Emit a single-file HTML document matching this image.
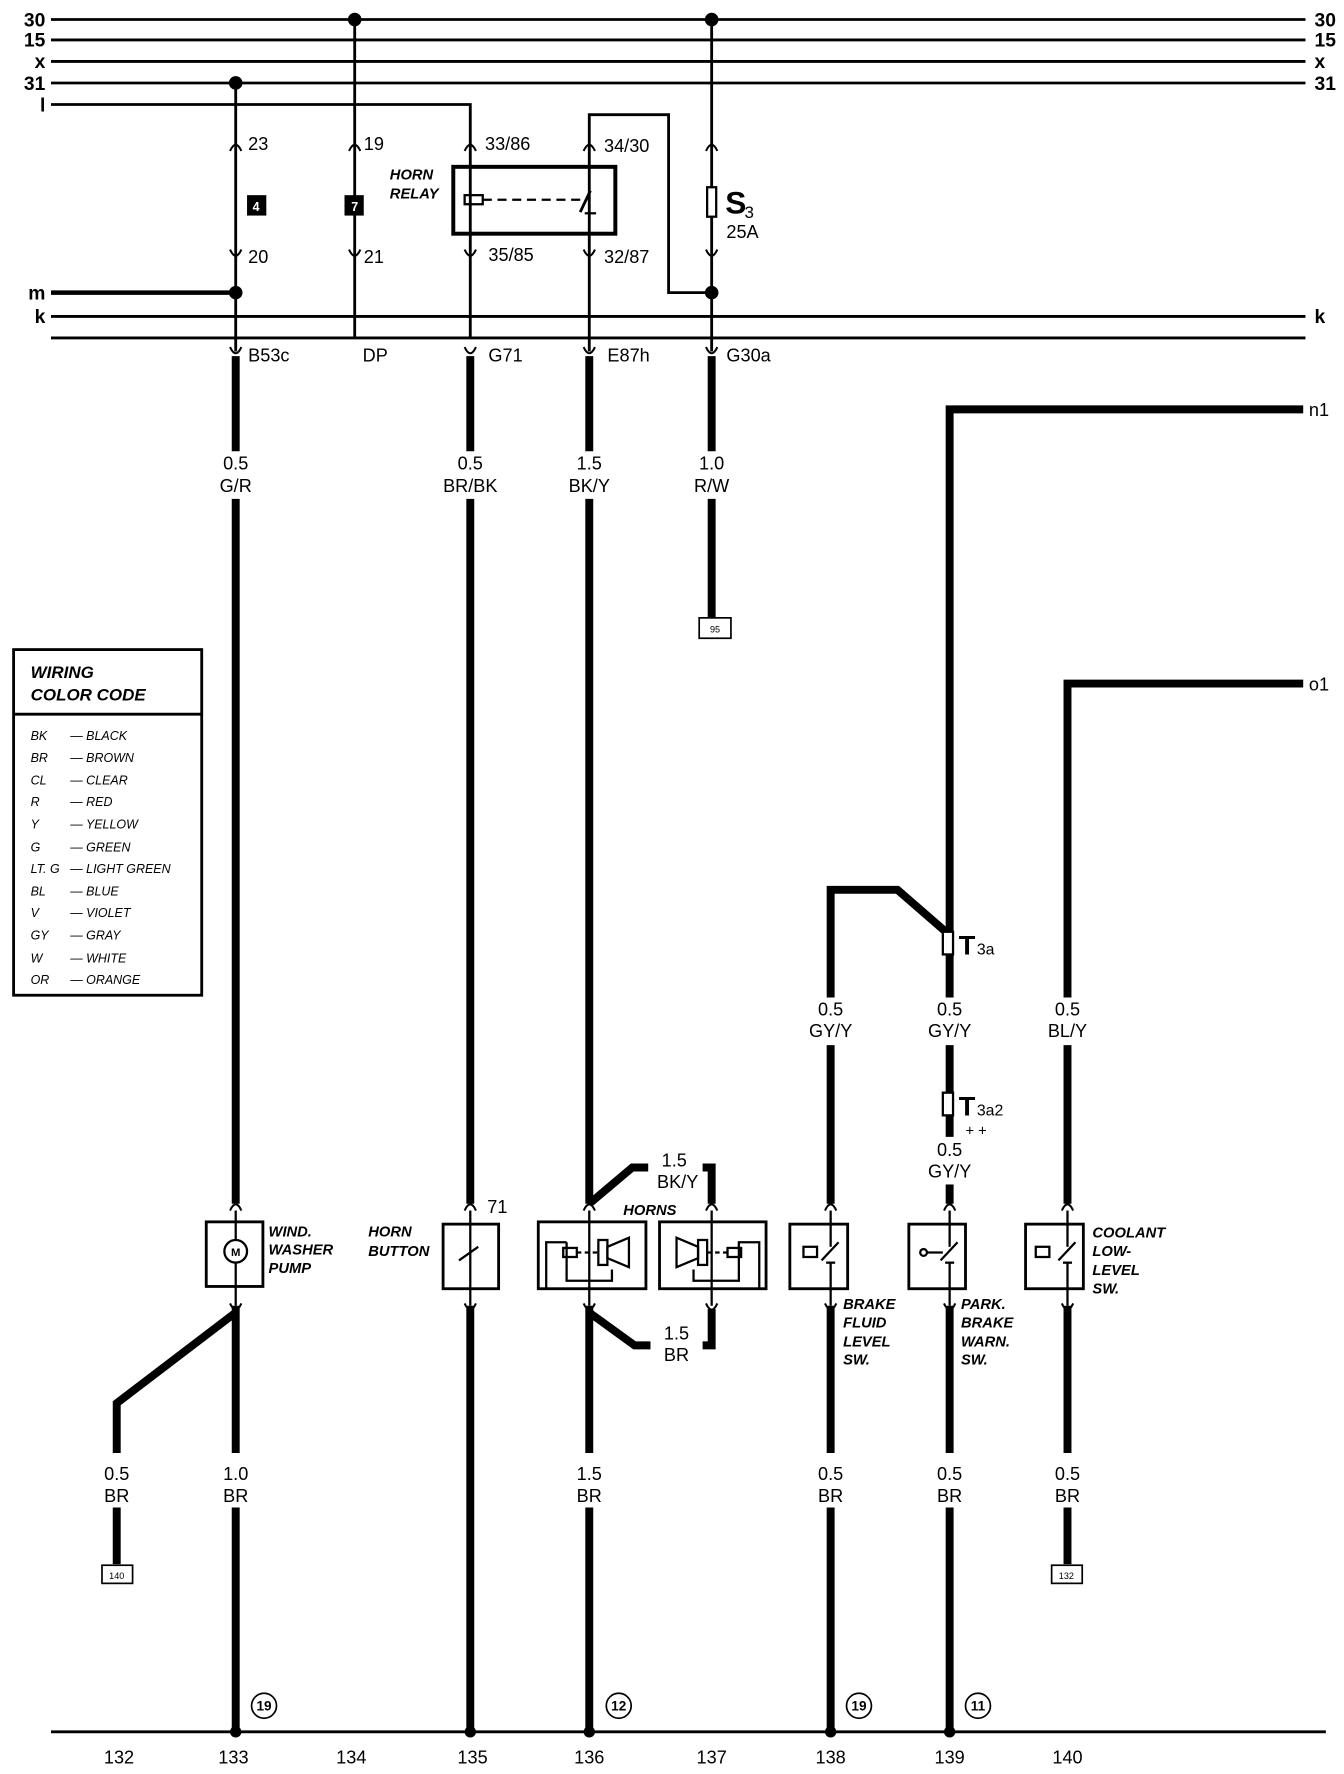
<!DOCTYPE html>
<html><head><meta charset="utf-8"><style>
html,body{margin:0;padding:0;background:#fff;}
svg{display:block}
text{font-family:"Liberation Sans",Arial,sans-serif}
.b{font-weight:bold}
.i{font-style:italic;font-weight:bold;font-size:13px}
.lbl{font-size:17px}
.sm{font-size:11px;font-style:italic}
</style></head><body>
<svg width="1344" height="1774" viewBox="0 0 1186 1565" xmlns="http://www.w3.org/2000/svg">
<g stroke="#000" fill="none" stroke-width="2.5">
<line x1="45" y1="17" x2="1152" y2="17"/>
<line x1="45" y1="35" x2="1152" y2="35"/>
<line x1="45" y1="54" x2="1152" y2="54"/>
<line x1="45" y1="73" x2="1152" y2="73"/>
<polyline points="45,92 415,92 415,298"/>
<line x1="45" y1="258" x2="208" y2="258" stroke-width="4"/>
<line x1="45" y1="279" x2="1152" y2="279"/>
<line x1="45" y1="298" x2="1152" y2="298"/>
<line x1="45" y1="1528" x2="1170" y2="1528"/>
<line x1="208" y1="73" x2="208" y2="310"/>
<line x1="313" y1="17" x2="313" y2="298"/>
<line x1="628" y1="17" x2="628" y2="310"/>
<polyline points="520,310 520,101 590,101 590,258 628,258"/>
<rect x="400" y="147" width="143" height="59" stroke-width="3.5"/>
<rect x="410" y="172" width="16" height="8" stroke-width="2"/>
<line x1="426" y1="176" x2="512" y2="176" stroke-dasharray="8,5" stroke-width="2"/>
<line x1="512" y1="187" x2="521" y2="168" stroke-width="2.5"/>
<line x1="516" y1="188" x2="526" y2="188" stroke-width="2"/>
<rect x="624" y="165" width="8" height="26" fill="#fff" stroke-width="2"/>
<g stroke-width="7">
<line x1="208" y1="314" x2="208" y2="398"/>
<line x1="208" y1="440" x2="208" y2="1062"/>
<line x1="208" y1="1152" x2="208" y2="1282"/>
<line x1="208" y1="1330" x2="208" y2="1528"/>
<polyline points="208,1158 103,1238 103,1282"/>
<line x1="103" y1="1330" x2="103" y2="1380"/>
<line x1="415" y1="314" x2="415" y2="398"/>
<line x1="415" y1="440" x2="415" y2="1062"/>
<line x1="415" y1="1152" x2="415" y2="1528"/>
<line x1="520" y1="314" x2="520" y2="398"/>
<line x1="520" y1="440" x2="520" y2="1062"/>
<polyline points="520,1062 558,1030 572,1030"/>
<polyline points="620,1030 628,1030 628,1062"/>
<line x1="520" y1="1152" x2="520" y2="1282"/>
<line x1="520" y1="1330" x2="520" y2="1528"/>
<polyline points="520,1158 560,1187 574,1187"/>
<polyline points="628,1155 628,1187 620,1187"/>
<line x1="628" y1="314" x2="628" y2="398"/>
<line x1="628" y1="440" x2="628" y2="545"/>
<polyline points="1150,361 838,361 838,880"/>
<polyline points="733,880 733,785 792,785 838,825"/>
<line x1="733" y1="922" x2="733" y2="1062"/>
<line x1="733" y1="1152" x2="733" y2="1282"/>
<line x1="733" y1="1330" x2="733" y2="1528"/>
<line x1="838" y1="922" x2="838" y2="1003"/>
<line x1="838" y1="1045" x2="838" y2="1062"/>
<line x1="838" y1="1152" x2="838" y2="1282"/>
<line x1="838" y1="1330" x2="838" y2="1528"/>
<polyline points="1150,603 942,603 942,880"/>
<line x1="942" y1="922" x2="942" y2="1062"/>
<line x1="942" y1="1152" x2="942" y2="1282"/>
<line x1="942" y1="1330" x2="942" y2="1380"/>
</g>
<g stroke-width="2.5" fill="#fff">
<rect x="182" y="1078" width="50" height="57"/>
<rect x="391" y="1080" width="49" height="57"/>
<rect x="475" y="1078" width="95" height="59"/>
<rect x="582" y="1078" width="94" height="59"/>
<rect x="697" y="1080" width="51" height="57"/>
<rect x="802" y="1080" width="50" height="57"/>
<rect x="905" y="1080" width="51" height="57"/>
</g>
<g stroke-width="2">
<line x1="208" y1="1068" x2="208" y2="1094"/><line x1="208" y1="1114" x2="208" y2="1152"/>
<line x1="415" y1="1068" x2="415" y2="1152"/>
<line x1="520" y1="1068" x2="520" y2="1152"/>
<line x1="628" y1="1068" x2="628" y2="1152"/>
<line x1="733" y1="1068" x2="733" y2="1100"/><line x1="733" y1="1114" x2="733" y2="1152"/>
<line x1="838" y1="1068" x2="838" y2="1100"/><line x1="838" y1="1114" x2="838" y2="1152"/>
<line x1="942" y1="1068" x2="942" y2="1100"/><line x1="942" y1="1114" x2="942" y2="1152"/>
<line x1="405" y1="1112" x2="422" y2="1100"/>
<line x1="725" y1="1112" x2="740" y2="1096"/><line x1="729" y1="1114" x2="737" y2="1114"/>
<line x1="830" y1="1112" x2="845" y2="1096"/><line x1="834" y1="1114" x2="842" y2="1114"/>
<line x1="934" y1="1112" x2="949" y2="1096"/><line x1="938" y1="1114" x2="946" y2="1114"/>
<rect x="709" y="1100" width="12" height="9"/>
<rect x="914" y="1100" width="12" height="9"/>
<circle cx="815" cy="1105" r="3"/><line x1="818" y1="1105" x2="832" y2="1105"/>
<circle cx="208" cy="1104" r="10" fill="#fff"/>
<polyline points="482,1137 482,1096 500,1096"/><polyline points="500,1096 500,1130 540,1130 540,1120"/>
<rect x="497" y="1101" width="12" height="8"/><line x1="509" y1="1105" x2="528" y2="1105" stroke-dasharray="4,3"/>
<rect x="528" y="1094" width="8" height="22"/><polygon points="536,1100 555,1092 555,1118 536,1110"/>
<polyline points="670,1137 670,1096 652,1096 652,1130 612,1130 612,1120"/>
<rect x="642" y="1101" width="12" height="8"/><line x1="624" y1="1105" x2="642" y2="1105" stroke-dasharray="4,3"/>
<rect x="616" y="1094" width="8" height="22"/><polygon points="616,1100 597,1092 597,1118 616,1110"/>
</g>
<g stroke-width="1.8">
<path d="M203,133 Q208,122 213,133"/><path d="M203,220 Q208,231 213,220"/>
<path d="M308,133 Q313,122 318,133"/><path d="M308,220 Q313,231 318,220"/>
<path d="M410,133 Q415,122 420,133"/><path d="M410,220 Q415,231 420,220"/>
<path d="M515,133 Q520,122 525,133"/><path d="M515,220 Q520,231 525,220"/>
<path d="M623,133 Q628,122 633,133"/><path d="M623,220 Q628,231 633,220"/>
<path d="M203,306 Q208,317 213,306"/><path d="M410,306 Q415,317 420,306"/><path d="M515,306 Q520,317 525,306"/><path d="M623,306 Q628,317 633,306"/>
<path d="M203,1068 Q208,1057 213,1068"/><path d="M410,1068 Q415,1057 420,1068"/><path d="M515,1068 Q520,1057 525,1068"/><path d="M623,1068 Q628,1057 633,1068"/><path d="M728,1068 Q733,1057 738,1068"/><path d="M833,1068 Q838,1057 843,1068"/><path d="M937,1068 Q942,1057 947,1068"/>
<path d="M203,1150 Q208,1161 213,1150"/><path d="M410,1150 Q415,1161 420,1150"/><path d="M515,1150 Q520,1161 525,1150"/><path d="M623,1150 Q628,1161 633,1150"/><path d="M728,1150 Q733,1161 738,1150"/><path d="M833,1150 Q838,1161 843,1150"/><path d="M937,1150 Q942,1161 947,1150"/>
</g>
<rect x="832" y="822" width="9" height="20" fill="#fff" stroke-width="2"/>
<rect x="832" y="964" width="9" height="20" fill="#fff" stroke-width="2"/>
<g stroke-width="1.5" fill="#fff">
<rect x="617" y="545" width="28" height="18"/>
<rect x="90" y="1381" width="27" height="16"/>
<rect x="928" y="1381" width="27" height="16"/>
<circle cx="233" cy="1505" r="11"/><circle cx="546" cy="1505" r="11"/><circle cx="758" cy="1505" r="11"/><circle cx="863" cy="1505" r="11"/>
</g>
<rect x="12" y="573" width="166" height="305" stroke-width="2.5"/>
<line x1="12" y1="630" x2="178" y2="630" stroke-width="2.5"/>
</g>
<g fill="#000">
<circle cx="313" cy="17" r="6"/><circle cx="628" cy="17" r="6"/><circle cx="208" cy="73" r="6"/>
<circle cx="208" cy="258" r="6"/><circle cx="628" cy="258" r="6"/>
<circle cx="208" cy="1528" r="5"/><circle cx="415" cy="1528" r="5"/><circle cx="520" cy="1528" r="5"/><circle cx="733" cy="1528" r="5"/><circle cx="838" cy="1528" r="5"/>
<rect x="218" y="172" width="17" height="18"/><rect x="304" y="172" width="17" height="18"/>
</g>
<g fill="#000">
<g font-size="17" font-weight="bold">
<text x="40" y="23" text-anchor="end">30</text>
<text x="40" y="41" text-anchor="end">15</text>
<text x="40" y="60" text-anchor="end">x</text>
<text x="40" y="79" text-anchor="end">31</text>
<text x="40" y="98" text-anchor="end">l</text>
<text x="40" y="264" text-anchor="end">m</text>
<text x="40" y="285" text-anchor="end">k</text>
<text x="1160" y="23">30</text><text x="1160" y="41">15</text><text x="1160" y="60">x</text><text x="1160" y="79">31</text><text x="1160" y="285">k</text>
</g>
<g font-size="16">
<text x="1155" y="367">n1</text><text x="1155" y="609">o1</text>
<text x="219" y="132">23</text><text x="219" y="232">20</text>
<text x="321" y="132">19</text><text x="321" y="232">21</text>
<text x="428" y="132">33/86</text><text x="431" y="230">35/85</text>
<text x="533" y="134">34/30</text><text x="533" y="232">32/87</text>
<text x="641" y="210">25A</text>
<text x="219" y="319">B53c</text><text x="320" y="319">DP</text><text x="431" y="319">G71</text><text x="536" y="319">E87h</text><text x="641" y="319">G30a</text>
<g text-anchor="middle">
<text x="208" y="414">0.5</text><text x="208" y="434">G/R</text>
<text x="415" y="414">0.5</text><text x="415" y="434">BR/BK</text>
<text x="520" y="414">1.5</text><text x="520" y="434">BK/Y</text>
<text x="628" y="414">1.0</text><text x="628" y="434">R/W</text>
<text x="733" y="896">0.5</text><text x="733" y="915">GY/Y</text>
<text x="838" y="896">0.5</text><text x="838" y="915">GY/Y</text>
<text x="942" y="896">0.5</text><text x="942" y="915">BL/Y</text>
<text x="838" y="1020">0.5</text><text x="838" y="1039">GY/Y</text>
<text x="595" y="1029">1.5</text><text x="598" y="1048">BK/Y</text>
<text x="597" y="1182">1.5</text><text x="597" y="1201">BR</text>
<text x="103" y="1306">0.5</text><text x="103" y="1325">BR</text>
<text x="208" y="1306">1.0</text><text x="208" y="1325">BR</text>
<text x="520" y="1306">1.5</text><text x="520" y="1325">BR</text>
<text x="733" y="1306">0.5</text><text x="733" y="1325">BR</text>
<text x="838" y="1306">0.5</text><text x="838" y="1325">BR</text>
<text x="942" y="1306">0.5</text><text x="942" y="1325">BR</text>
<text x="105" y="1556">132</text><text x="206" y="1556">133</text><text x="310" y="1556">134</text><text x="417" y="1556">135</text><text x="520" y="1556">136</text><text x="628" y="1556">137</text><text x="733" y="1556">138</text><text x="838" y="1556">139</text><text x="942" y="1556">140</text>
</g>
<text x="430" y="1070">71</text>
</g>
<text x="640" y="188" font-size="28" font-weight="bold">S</text><text x="657" y="192" font-size="15">3</text>
<text x="846" y="842" font-size="24" font-weight="bold">T</text><text x="862" y="842" font-size="14">3a</text>
<text x="846" y="984" font-size="24" font-weight="bold">T</text><text x="862" y="984" font-size="14">3a2</text>
<text x="852" y="1002" font-size="13">+ +</text>
<g font-size="8" text-anchor="middle">
<text x="631" y="558">95</text><text x="103" y="1393">140</text><text x="941" y="1393">132</text>
<text x="233" y="1509" font-size="12" font-weight="bold">19</text><text x="546" y="1509" font-size="12" font-weight="bold">12</text><text x="758" y="1509" font-size="12" font-weight="bold">19</text><text x="863" y="1509" font-size="12" font-weight="bold">11</text>
<text x="208" y="1108" font-size="10" font-weight="bold">M</text>
</g>
<g font-style="italic" font-weight="bold" font-size="13">
<text x="344" y="158">HORN</text><text x="344" y="175">RELAY</text>
<text x="237" y="1091">WIND.</text><text x="237" y="1107">WASHER</text><text x="237" y="1123">PUMP</text>
<text x="325" y="1091">HORN</text><text x="325" y="1108">BUTTON</text>
<text x="550" y="1072">HORNS</text>
<text x="744" y="1155">BRAKE</text><text x="744" y="1171">FLUID</text><text x="744" y="1188">LEVEL</text><text x="744" y="1204">SW.</text>
<text x="848" y="1155">PARK.</text><text x="848" y="1171">BRAKE</text><text x="848" y="1188">WARN.</text><text x="848" y="1204">SW.</text>
<text x="964" y="1092">COOLANT</text><text x="964" y="1108">LOW-</text><text x="964" y="1125">LEVEL</text><text x="964" y="1141">SW.</text>
<text x="27" y="598" font-size="15">WIRING</text><text x="27" y="618" font-size="15">COLOR CODE</text>
</g>
<g font-size="11" font-style="italic">
<text x="27" y="653">BK</text><text x="62" y="653">— BLACK</text>
<text x="27" y="672">BR</text><text x="62" y="672">— BROWN</text>
<text x="27" y="692">CL</text><text x="62" y="692">— CLEAR</text>
<text x="27" y="711">R</text><text x="62" y="711">— RED</text>
<text x="27" y="731">Y</text><text x="62" y="731">— YELLOW</text>
<text x="27" y="751">G</text><text x="62" y="751">— GREEN</text>
<text x="27" y="770">LT. G</text><text x="62" y="770">— LIGHT GREEN</text>
<text x="27" y="790">BL</text><text x="62" y="790">— BLUE</text>
<text x="27" y="809">V</text><text x="62" y="809">— VIOLET</text>
<text x="27" y="829">GY</text><text x="62" y="829">— GRAY</text>
<text x="27" y="849">W</text><text x="62" y="849">— WHITE</text>
<text x="27" y="868">OR</text><text x="62" y="868">— ORANGE</text>
</g>
</g>
<g font-size="11" font-weight="bold" fill="#fff" text-anchor="middle">
<text x="226" y="186">4</text><text x="313" y="186">7</text>
</g>
</svg>
</body></html>
